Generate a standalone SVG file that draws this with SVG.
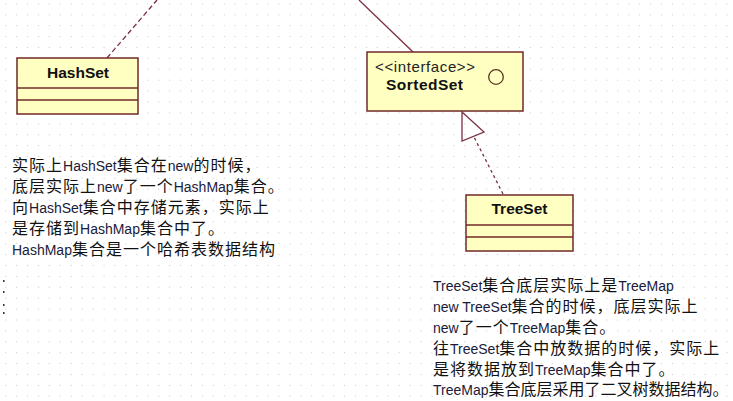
<svg xmlns="http://www.w3.org/2000/svg" width="733" height="401" viewBox="0 0 733 401">
<defs>
<pattern id="grid" patternUnits="userSpaceOnUse" x="5.2" y="3.4" width="10.93" height="10.9">
<rect x="0" y="0" width="1" height="1" fill="#c8c8c8"/>
</pattern>
<style>
.box{fill:#ffffc2;stroke:#722a2a;stroke-width:1.5}
.div{stroke:#722a2a;stroke-width:1.5}
.title{font-family:"Liberation Sans",Arial,sans-serif;font-weight:bold;font-size:15.5px;fill:#111;text-anchor:middle}
.stereo{font-family:"Liberation Sans",Arial,sans-serif;font-size:15px;fill:#222}
.conn{stroke:#7a3040;stroke-width:1.3;fill:none}
.t{font-family:"Liberation Sans","Noto Sans CJK SC",sans-serif;font-size:16px;letter-spacing:1px;fill:#111}
.l{font-size:14px;letter-spacing:0px;fill:#1a1a3a}
</style>
</defs>
<rect width="733" height="401" fill="#ffffff"/>
<rect width="733" height="401" fill="url(#grid)"/>
<g fill="#333">
<rect x="3" y="280" width="1.5" height="2"/>
<rect x="3" y="291" width="1.5" height="2"/>
<rect x="3" y="304" width="1.5" height="2"/>
<rect x="3" y="312" width="1.5" height="2"/>
</g>
<g id="connectors">
<line class="conn" x1="107" y1="58" x2="157" y2="0" stroke-dasharray="5,3"/>
<line class="conn" x1="359" y1="0" x2="413" y2="52"/>
<line class="conn" x1="503" y1="194" x2="474" y2="137" stroke-dasharray="3,3"/>
<polygon class="conn" points="462,112 484,132 462,141" fill="#ffffff" stroke-width="1.5"/>
</g>
<g id="HashSet">
<rect class="box" x="17" y="58" width="121" height="56"/>
<line class="div" x1="17" y1="88" x2="138" y2="88"/>
<line class="div" x1="17" y1="100" x2="138" y2="100"/>
<text class="title" x="78" y="78">HashSet</text>
</g>
<g id="SortedSet">
<rect class="box" x="367" y="52" width="156" height="59"/>
<text class="stereo" x="375" y="72" textLength="100">&lt;&lt;interface&gt;&gt;</text>
<text class="title" x="386" y="90" style="text-anchor:start" textLength="77">SortedSet</text>
<circle cx="496" cy="77" r="7.3" fill="none" stroke="#5a3424" stroke-width="1.3"/>
</g>
<g id="TreeSet">
<rect class="box" x="466" y="195" width="107" height="56"/>
<line class="div" x1="466" y1="225" x2="573" y2="225"/>
<line class="div" x1="466" y1="237" x2="573" y2="237"/>
<text class="title" x="519.5" y="214">TreeSet</text>
</g>
<g id="note-hashset">
<text class="t" x="12" y="171">实际上<tspan class="l">HashSet</tspan>集合在<tspan class="l">new</tspan>的时候，</text>
<text class="t" x="12" y="192">底层实际上<tspan class="l">new</tspan>了一个<tspan class="l">HashMap</tspan>集合。</text>
<text class="t" x="12" y="213">向<tspan class="l">HashSet</tspan>集合中存储元素，实际上</text>
<text class="t" x="12" y="234">是存储到<tspan class="l">HashMap</tspan>集合中了。</text>
<text class="t" x="12" y="255"><tspan class="l">HashMap</tspan>集合是一个哈希表数据结构</text>
</g>
<g id="note-treeset">
<text class="t" x="433" y="291"><tspan class="l">TreeSet</tspan>集合底层实际上是<tspan class="l">TreeMap</tspan></text>
<text class="t" x="433" y="312"><tspan class="l">new TreeSet</tspan>集合的时候，底层实际上</text>
<text class="t" x="433" y="333"><tspan class="l">new</tspan>了一个<tspan class="l">TreeMap</tspan>集合。</text>
<text class="t" x="433" y="354">往<tspan class="l">TreeSet</tspan>集合中放数据的时候，实际上</text>
<text class="t" x="433" y="375">是将数据放到<tspan class="l">TreeMap</tspan>集合中了。</text>
<text class="t" x="433" y="394.5" style="letter-spacing:0px"><tspan class="l">TreeMap</tspan>集合底层采用了二叉树数据结构。</text>
</g>
</svg>
